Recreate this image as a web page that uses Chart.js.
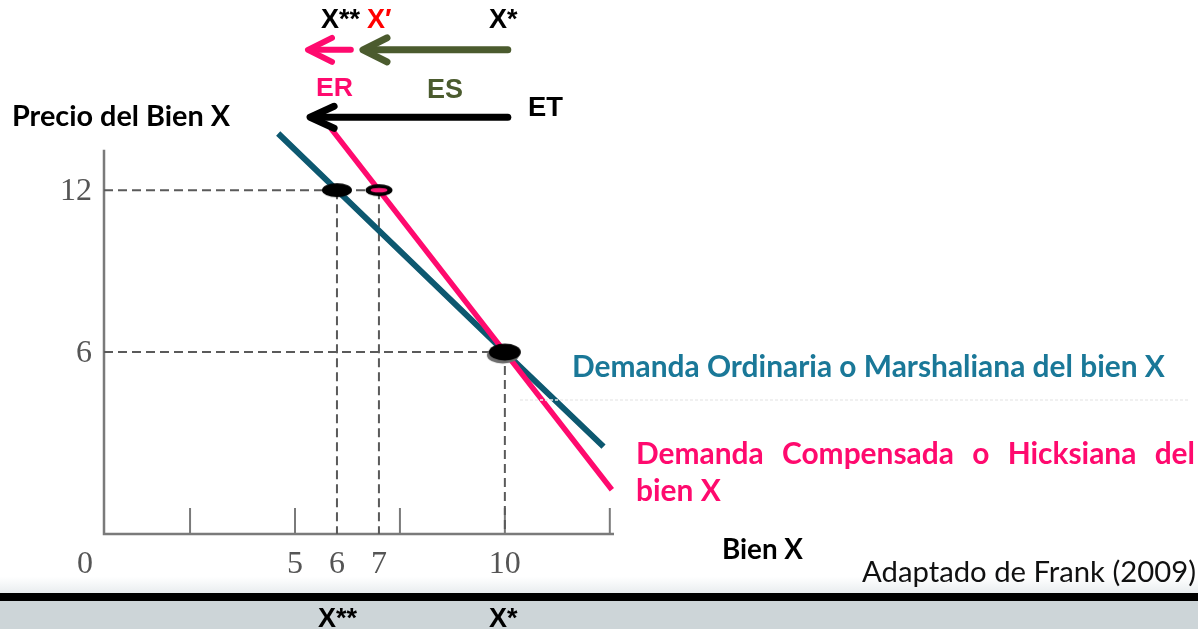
<!DOCTYPE html>
<html>
<head>
<meta charset="utf-8">
<script src="https://cdn.jsdelivr.net/npm/chart.js@4.4.1/dist/chart.umd.min.js"></script>
<style>
  html, body { margin: 0; padding: 0; background: #fff; }
  #wrap { position: relative; width: 1198px; height: 629px; }
</style>
</head>
<body>
<div id="wrap"><canvas id="c"></canvas></div>
<script>
// Ordinary (Marshallian) demand for good X: quantity vs price
const marshallX = [4.6, 6, 10, 12.35];
const marshallY = [14.1, 12, 6, 2.5];
// Compensated (Hicksian) demand for good X
const hicksX = [5.85, 7, 10, 12.55];
const hicksY = [14.3, 12, 6, 0.9];
// Marked points: X** (6,12), X' (7,12), X* (10,6)
const pointX = [6, 7, 10];
const pointY = [12, 12, 6];
// Axis ticks and labels
const xTickMarks = [2.5, 5, 7.5, 10, 12.5];
const xLabelValues = [0, 5, 6, 7, 10];
const xLabelText = ['0', '5', '6', '7', '10'];
const yLabelValues = [12, 6];
const yLabelText = ['12', '6'];
// Effect arrows (total, substitution, income): from X* towards X' / X**
const effectNames = ['ET', 'ES', 'ER'];
const effectFromX = [10.07, 10.07, 6.33];
const effectToX = [5.36, 6.62, 5.31];
const effectLevel = [14.7, 17.2, 17.2];
const effectColors = ['#000000', '#4b5b2e', '#ff0a6e'];

const X_MIN = 0.45, X_MAX = 12.6, Y_MIN = -0.74, Y_MAX = 14.6;

const TEAL_LINE = '#0d5870';
const TEAL_TEXT = '#1a7898';
const PINK = '#ff0a6e';
const GUIDE = '#5a5a5a';

function pts(xs, ys) { return xs.map((x, i) => ({ x: x, y: ys[i] })); }

function makeCanvas(w, h, paint) {
  const cv = document.createElement('canvas');
  cv.width = w; cv.height = h;
  paint(cv.getContext('2d'), w, h);
  return cv;
}
function ellipse(ctx, cx, cy, rx, ry, color) {
  ctx.beginPath();
  ctx.ellipse(cx, cy, rx, ry, 0, 0, Math.PI * 2);
  ctx.fillStyle = color;
  ctx.fill();
}
const dotOrdinary = makeCanvas(34, 18, (g, w, h) => ellipse(g, w / 2, h / 2, 15, 7, '#000'));
const dotCompensated = makeCanvas(30, 16, (g, w, h) => {
  ellipse(g, w / 2, h / 2, 13.5, 6, '#000');
  ellipse(g, w / 2, h / 2, 8.5, 2.3, '#ff1a78');
});
const dotEquilibrium = makeCanvas(42, 28, (g, w, h) => {
  ellipse(g, w / 2 - 2, h / 2 + 3, 16, 8.5, '#6e6e6e');
  ellipse(g, w / 2, h / 2, 16, 8.5, '#000');
});

// Guide lines from the marked points down to the axes
const guides = [
  [{ x: X_MIN, y: 12 }, { x: 7, y: 12 }],
  [{ x: X_MIN, y: 6 }, { x: 10, y: 6 }],
  [{ x: 6, y: 12 }, { x: 6, y: Y_MIN }],
  [{ x: 7, y: 12 }, { x: 7, y: Y_MIN }],
  [{ x: 10, y: 6 }, { x: 10, y: Y_MIN }]
];

const guideSets = guides.map(g => ({
  data: g,
  showLine: true,
  borderColor: GUIDE,
  borderWidth: 2,
  borderDash: [9, 5],
  pointRadius: 0,
  order: 10
}));

function fitFont(ctx, str, weight, family, width) {
  ctx.font = `${weight} 100px ${family}`;
  const w = ctx.measureText(str).width;
  const size = 100 * width / w;
  ctx.font = `${weight} ${size.toFixed(2)}px ${family}`;
  return size;
}
function textAt(ctx, str, left, baseline, width, weight, family, color) {
  fitFont(ctx, str, weight, family, width);
  ctx.fillStyle = color;
  ctx.textAlign = 'left';
  ctx.textBaseline = 'alphabetic';
  ctx.fillText(str, left, baseline);
}
function label(ctx, str, left, baseline, font, color) {
  ctx.font = font;
  ctx.fillStyle = color;
  ctx.textAlign = 'left';
  ctx.textBaseline = 'alphabetic';
  ctx.fillText(str, left, baseline);
}
function justified(ctx, words, left, right, baseline, color) {
  const widths = words.map(w => ctx.measureText(w).width);
  const total = widths.reduce((a, b) => a + b, 0);
  const gap = (right - left - total) / (words.length - 1);
  let x = left;
  ctx.fillStyle = color;
  ctx.textAlign = 'left';
  words.forEach((w, i) => { ctx.fillText(w, x, baseline); x += widths[i] + gap; });
}
function arrow(ctx, x1, x2, y, color, lw, headLen, headHalf) {
  ctx.save();
  ctx.strokeStyle = color;
  ctx.lineWidth = lw;
  ctx.lineCap = 'round';
  ctx.lineJoin = 'round';
  ctx.beginPath();
  ctx.moveTo(x1, y);
  ctx.lineTo(x2 + 2, y);
  ctx.stroke();
  ctx.beginPath();
  ctx.moveTo(x2 + headLen, y - headHalf);
  ctx.lineTo(x2, y);
  ctx.lineTo(x2 + headLen, y + headHalf);
  ctx.stroke();
  ctx.restore();
}

const axesPlugin = {
  id: 'axesAndLabels',
  beforeDatasetsDraw(chart) {
    const { ctx } = chart;
    const xs = chart.scales.x, ys = chart.scales.y;
    const x0 = xs.getPixelForValue(X_MIN);
    const yb = ys.getPixelForValue(Y_MIN);
    ctx.save();
    ctx.strokeStyle = '#7a7a7a';
    ctx.lineWidth = 2.5;
    ctx.beginPath();
    ctx.moveTo(x0, ys.getPixelForValue(13.5));
    ctx.lineTo(x0, yb);
    ctx.lineTo(xs.getPixelForValue(X_MAX), yb);
    ctx.stroke();
    ctx.lineWidth = 2;
    xTickMarks.forEach(v => {
      const px = xs.getPixelForValue(v);
      ctx.beginPath();
      ctx.moveTo(px, yb);
      ctx.lineTo(px, yb - 26);
      ctx.stroke();
    });
    ctx.fillStyle = '#555';
    ctx.font = "32px 'Liberation Serif'";
    ctx.textBaseline = 'middle';
    ctx.textAlign = 'center';
    xLabelValues.forEach((v, i) => ctx.fillText(xLabelText[i], xs.getPixelForValue(v), yb + 31));
    ctx.textAlign = 'right';
    yLabelValues.forEach((v, i) => ctx.fillText(yLabelText[i], x0 - 12, ys.getPixelForValue(v) + 1));
    ctx.restore();
  },
  afterDraw(chart) {
    const { ctx } = chart;
    const xs = chart.scales.x, ys = chart.scales.y;
    ctx.save();

    // Effect arrows
    effectNames.forEach((n, i) => {
      const lw = i === 2 ? 6 : 7;
      const hh = i === 0 ? 11 : 12;
      arrow(ctx, xs.getPixelForValue(effectFromX[i]), xs.getPixelForValue(effectToX[i]),
        ys.getPixelForValue(effectLevel[i]), effectColors[i], lw, 24, hh);
    });

    const SANS = "'Liberation Sans'";
    const CAL = "Lato";
    const XFONT = "bold 27px 'Liberation Sans'";
    label(ctx, 'X**', 321, 28, XFONT, '#000');
    label(ctx, 'X\u2032', 367, 28, XFONT, '#ff0000');
    label(ctx, 'X*', 489, 28, XFONT, '#000');
    textAt(ctx, 'ER', 316, 96, 37, 'bold', SANS, PINK);
    textAt(ctx, 'ES', 427, 98, 36, 'bold', SANS, effectColors[1]);
    textAt(ctx, 'ET', 528, 116, 35, 'bold', SANS, '#000');

    textAt(ctx, 'Precio del Bien X', 12, 126, 218, 'bold', CAL, '#000');

    textAt(ctx, 'Demanda Ordinaria o Marshaliana del bien X', 572, 377, 593, 'bold', CAL, TEAL_TEXT);
    // same font for the compensated demand caption
    justified(ctx, ['Demanda', 'Compensada', 'o', 'Hicksiana', 'del'], 636, 1195, 464, PINK);
    ctx.fillText('bien X', 636, 501);

    // faint rule under the ordinary demand caption
    ctx.strokeStyle = '#ececec';
    ctx.lineWidth = 1.5;
    ctx.setLineDash([3, 2]);
    ctx.beginPath();
    ctx.moveTo(520, 400);
    ctx.lineTo(1190, 400);
    ctx.stroke();
    ctx.setLineDash([]);

    textAt(ctx, 'Bien X', 722, 559, 81, 'bold', CAL, '#000');

    // footer band
    const grad = ctx.createLinearGradient(0, 576, 0, 593);
    grad.addColorStop(0, 'rgba(235,239,241,0)');
    grad.addColorStop(1, '#e8ecee');
    ctx.fillStyle = grad;
    ctx.fillRect(0, 576, 1198, 17);
    textAt(ctx, 'Adaptado de Frank (2009)', 862, 582, 334, 'normal', CAL, '#111');
    ctx.fillStyle = '#000';
    ctx.fillRect(0, 593, 1198, 8);
    ctx.fillStyle = '#cdd5d8';
    ctx.fillRect(0, 601, 1198, 28);
    label(ctx, 'X**', 318, 627, XFONT, '#000');
    label(ctx, 'X*', 489, 627, XFONT, '#000');

    ctx.restore();
  }
};

new Chart(document.getElementById('c'), {
  type: 'scatter',
  data: {
    datasets: [
      {
        label: 'Demanda Compensada o Hicksiana',
        data: pts(hicksX, hicksY),
        showLine: true,
        borderColor: PINK,
        borderWidth: 5.5,
        pointRadius: 0,
        order: 2
      },
      {
        label: 'Demanda Ordinaria o Marshaliana',
        data: pts(marshallX, marshallY),
        showLine: true,
        borderColor: TEAL_LINE,
        borderWidth: 6,
        pointRadius: 0,
        order: 3
      },
      {
        label: 'Puntos',
        data: pts(pointX, pointY),
        showLine: false,
        pointStyle: [dotOrdinary, dotCompensated, dotEquilibrium],
        pointRadius: 8,
        order: 1,
        clip: false
      },
      ...guideSets
    ]
  },
  options: {
    responsive: true,
    maintainAspectRatio: false,
    animation: false,
    layout: { padding: { left: 104, right: 584, top: 120, bottom: 95 } },
    plugins: { legend: { display: false }, tooltip: { enabled: false } },
    scales: {
      x: { type: 'linear', min: X_MIN, max: X_MAX, display: false },
      y: { type: 'linear', min: Y_MIN, max: Y_MAX, display: false }
    }
  },
  plugins: [axesPlugin]
});
</script>
</body>
</html>
